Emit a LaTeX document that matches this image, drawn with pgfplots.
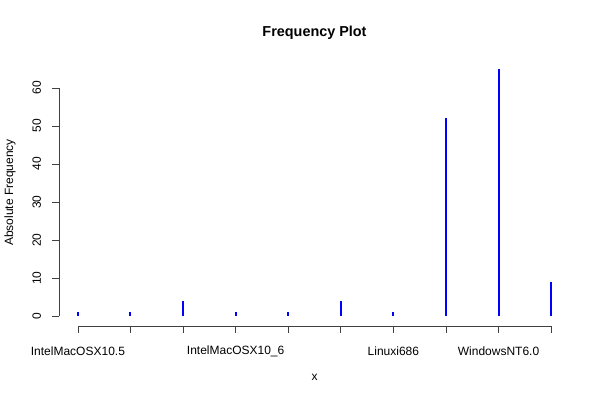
\documentclass[border=0pt]{standalone}
\usepackage{pgfplots}
\pgfplotsset{compat=1.18}
\usepackage{fontspec}
\setmainfont{Liberation Sans}
\begin{document}
\begin{tikzpicture}[x=0.75pt,y=0.75pt]
\useasboundingbox (0,0) rectangle (600,400);
\begin{axis}[
  at={(44.25pt,55.5pt)}, anchor=south west,
  scale only axis, width=383.25pt, height=200.25pt,
  xmin=0.64, xmax=10.36, ymin=-2.6, ymax=67.6,
  axis line style={draw=none},
  xtick pos=bottom, ytick pos=left,
  /pgf/number format/assume math mode=true,
  font=\fontsize{9}{11}\selectfont,
  xtick={1,2,3,4,5,6,7,8,9,10},
  xticklabels={IntelMacOSX10.5,,,IntelMacOSX10\_6,,,Linuxi686,,WindowsNT6.0,},
  ytick={0,10,20,30,40,50,60},
  tick align=outside,
  major tick length=5.4pt,
  tick style={black!75, line width=0.6pt},
  xticklabel style={anchor=center, yshift=-13.5pt},
  yticklabel style={xshift=-11.25pt, rotate=90, anchor=center},
  title={Frequency Plot},
  every axis title/.style={at={(axis description cs:0.5,1.1)}, anchor=center, font=\bfseries\fontsize{10.8}{13}\selectfont},
  xlabel={x},
  every axis x label/.style={at={(axis description cs:0.5,-0.191)}, anchor=center},
  ylabel={Absolute Frequency},
  every axis y label/.style={at={(axis description cs:-0.0959,0.5)}, rotate=90, anchor=center},
  clip=false,
]
\addplot[ycomb, blue, line width=1.5pt, no marks] coordinates {
(1,1) (2,1) (3,4) (4,1) (5,1) (6,4) (7,1) (8,52) (9,65) (10,9)
};
\draw[black!75, line width=0.6pt] (axis cs:1,-2.6) -- (axis cs:10,-2.6);
\draw[black!75, line width=0.6pt] (axis cs:0.64,0) -- (axis cs:0.64,60);
\end{axis}
\end{tikzpicture}
\end{document}
